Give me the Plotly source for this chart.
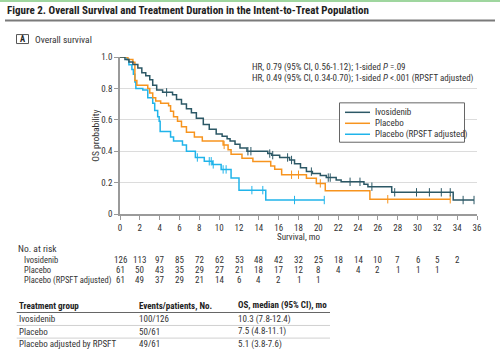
import bisect
import plotly.graph_objects as go

# ---------------- data ----------------
months_ticks = list(range(0, 37, 2))
y_ticks = [0, 0.2, 0.4, 0.6, 0.8, 1.0]
y_tick_labels = ["0", "0.2", "0.4", "0.6", "0.8", "1.0"]

ivo_t = [0, 0.5, 0.9, 1.3, 1.8, 2.2, 2.6, 3.0, 3.3, 3.7, 4.3, 5.3, 5.7, 6.2, 6.7, 7.2, 7.7, 8.4, 9.0, 9.7,
         10.3, 10.8, 11.1, 11.6, 12.1, 12.8, 14.9, 15.3, 16.1, 17.1, 17.6, 18.2, 18.8, 19.4, 20.2, 20.8,
         21.8, 22.3, 24.6, 25.0, 27.4, 33.6]
ivo_s = [1.0, 0.984, 0.968, 0.952, 0.93, 0.90, 0.88, 0.855, 0.82, 0.79, 0.775, 0.76, 0.73, 0.70, 0.67, 0.645,
         0.61, 0.57, 0.54, 0.51, 0.495, 0.48, 0.465, 0.445, 0.42, 0.40, 0.385, 0.375, 0.36, 0.344, 0.32,
         0.295, 0.27, 0.258, 0.245, 0.232, 0.217, 0.205, 0.19, 0.174, 0.138, 0.089]
ivo_end = 35.7
ivo_cens = [4.7, 12.9, 13.2, 15.1, 15.4, 16.9, 17.3, 19.3, 21.0, 21.2, 23.2, 24.2, 25.4, 27.7, 29.9, 31.2,
            32.4, 33.3, 34.6, 35.7]

plc_t = [0, 0.8, 1.3, 1.5, 1.7, 2.8, 3.0, 3.3, 3.6, 4.1, 4.9, 5.1, 5.4, 5.8, 6.2, 6.7, 7.5, 8.3, 10.4, 10.9,
         11.2, 12.3, 13.4, 15.2, 15.6, 16.3, 18.8, 19.8, 20.7, 25.2]
plc_s = [1.0, 0.984, 0.967, 0.85, 0.82, 0.80, 0.77, 0.74, 0.72, 0.705, 0.69, 0.655, 0.62, 0.59, 0.555, 0.52,
         0.49, 0.465, 0.44, 0.41, 0.38, 0.355, 0.335, 0.306, 0.285, 0.25, 0.227, 0.195, 0.148, 0.094]
plc_end = 33.3
plc_cens = [10.5, 17.3, 18.0, 20.2, 27.0, 33.3]

rp_t = [0, 0.7, 0.9, 1.2, 1.35, 1.5, 1.6, 2.3, 2.8, 3.3, 3.5, 3.8, 3.95, 4.05, 5.1, 5.4, 6.3, 6.7, 7.6, 8.5,
        9.3, 10.2, 11.2, 12.0, 14.7]
rp_s = [1.0, 0.984, 0.95, 0.92, 0.89, 0.84, 0.80, 0.79, 0.74, 0.705, 0.66, 0.62, 0.59, 0.525, 0.49, 0.465,
        0.44, 0.40, 0.36, 0.336, 0.316, 0.284, 0.23, 0.152, 0.089]
rp_end = 20.6
rp_cens = [7.8, 9.0, 9.2, 9.4, 10.4, 10.7, 13.3, 14.4, 17.6, 20.6]

series_names = ["Ivosidenib", "Placebo", "Placebo (RPSFT adjusted)"]
series_colors = ["#2c5866", "#f7941e", "#20b4ea"]

risk_ivo = [126, 113, 97, 85, 72, 62, 53, 48, 42, 32, 25, 18, 14, 10, 7, 6, 5, 2]
risk_plc = [61, 50, 43, 35, 29, 27, 21, 18, 17, 12, 8, 4, 4, 2, 1, 1, 1]
risk_rp = [61, 49, 37, 29, 21, 14, 6, 4, 2, 1, 1]

table_header = ["Treatment group", "Events/patients, No.", "OS, median (95% CI), mo"]
table_groups = ["Ivosidenib", "Placebo", "Placebo adjusted by RPSFT"]
table_events = ["100/126", "50/61", "49/61"]
table_median = ["10.3 (7.8-12.4)", "7.5 (4.8-11.1)", "5.1 (3.8-7.6)"]

# ---------------- layout helpers ----------------
W, H = 500, 359
PL, PT, PR, PB = 120, 57, 477, 214.5  # plot area in page pixels
L, T = PL, PT
R, B = W - PR, H - PB
PW, PH = PR - PL, PB - PT


def px(x):
    return (x - PL) / PW


def py(y):
    return (PB - y) / PH


FONT = "Liberation Sans Narrow, Roboto Condensed, Lato, sans-serif"
TXT = "#333333"


def step_at(ts, ss, t):
    i = bisect.bisect_right(ts, t) - 1
    return ss[max(i, 0)]


fig = go.Figure()

curves = [(ivo_t, ivo_s, ivo_end, ivo_cens), (plc_t, plc_s, plc_end, plc_cens), (rp_t, rp_s, rp_end, rp_cens)]
for idx in [2, 1, 0]:
    ts, ss, end, cens = curves[idx]
    fig.add_trace(go.Scatter(
        x=ts + [end], y=ss + [ss[-1]], mode="lines", line=dict(color=series_colors[idx], width=1.5, shape="hv"),
        name=series_names[idx], showlegend=False, hoverinfo="skip"))
    fig.add_trace(go.Scatter(
        x=cens, y=[step_at(ts, ss, c) for c in cens], mode="markers",
        marker=dict(symbol="line-ns", size=6, line=dict(color=series_colors[idx], width=1)),
        name=series_names[idx] + " censored", showlegend=False, hoverinfo="skip"))

fig.update_layout(
    width=W, height=H, margin=dict(l=L, r=R, t=T, b=B, autoexpand=False),
    paper_bgcolor="white", plot_bgcolor="white",
    font=dict(family=FONT, size=9, color=TXT),
    showlegend=False,
)
fig.update_xaxes(range=[0, 36], tickvals=months_ticks, ticktext=[str(v) for v in months_ticks],
                 showgrid=False, zeroline=False, showline=True, linecolor="#9a9a9a", linewidth=1.5,
                 ticks="outside", ticklen=4, tickcolor="#9a9a9a", tickfont=dict(size=9, color=TXT))
fig.update_yaxes(range=[0, 1.0], tickvals=y_ticks, ticktext=y_tick_labels,
                 showgrid=True, gridcolor="#dcdcdc", gridwidth=1, zeroline=False,
                 showline=True, linecolor="#9a9a9a", linewidth=1.5,
                 ticks="outside", ticklen=4, tickcolor="#9a9a9a", tickfont=dict(size=9, color=TXT))

ann = []
shapes = []


def text(x, y, s, size=9, anchor="left", bold=False, color=TXT, xref="paper", **kw):
    if bold:
        s = "<b>" + s + "</b>"
    ann.append(dict(x=x if xref == "x" else px(x), y=py(y), xref=xref, yref="paper", text=s, showarrow=False,
                    xanchor=anchor, yanchor="middle", font=dict(size=size, color=color, family=FONT), **kw))


def hline(x0, x1, y, color, width):
    shapes.append(dict(type="line", xref="paper", yref="paper", x0=px(x0), x1=px(x1), y0=py(y), y1=py(y),
                       line=dict(color=color, width=width)))


# top decorations
hline(0, 500, 0.8, "#9fd69f", 2)
text(5, 10, "Figure 2. Overall Survival and Treatment Duration in the Intent-to-Treat Population", size=11,
     bold=True, color="#222222")
hline(5, 495, 20.5, "#7a7a7a", 2)

# panel label
shapes.append(dict(type="rect", xref="paper", yref="paper", x0=px(16.5), x1=px(28.5), y0=py(34.5), y1=py(43.5),
                   line=dict(color="#555555", width=1)))
text(22.5, 39.3, "A", size=8.5, anchor="center", bold=True, color="#222222")
text(33, 39, "Overall survival", size=9.5, color="#333333")

# HR text
text(250, 68, "HR, 0.79 (95% CI, 0.56-1.12); 1-sided <i>P</i> =.09", size=9)
text(250, 79, "HR, 0.49 (95% CI, 0.34-0.70); 1-sided <i>P</i> &lt;.001 (RPSFT adjusted)", size=9)

# legend box
shapes.append(dict(type="rect", xref="paper", yref="paper", x0=px(339.5), x1=px(464.5), y0=py(103), y1=py(142.5),
                   line=dict(color="#666666", width=1), fillcolor="white"))
for i, (nm, col) in enumerate(zip(series_names, series_colors)):
    yy = 112.5 + 11 * i
    hline(345, 370, yy, col, 1.5)
    text(373, yy, nm, size=9)

# axis titles
ann.append(dict(x=px(96), y=py(136), xref="paper", yref="paper", text="OS probability", showarrow=False,
                textangle=-90, xanchor="center", yanchor="middle", font=dict(size=9.5, color=TXT, family=FONT)))
text(298.5, 238, "Survival, mo", size=9, anchor="center")

# numbers at risk
text(16.5, 249, "No. at risk", size=9.5)
rows = [("Ivosidenib", risk_ivo, 261), ("Placebo", risk_plc, 271), ("Placebo (RPSFT adjusted)", risk_rp, 281)]
for name, vals, yy in rows:
    text(21.5, yy, name, size=8.5)
    for k, v in enumerate(vals):
        text(months_ticks[k], yy, str(v), size=9, anchor="center", xref="x")

# bottom table
col_x = [16.7, 136.7, 236]
for cx, h in zip(col_x, table_header):
    text(cx, 306.5, h, size=9, bold=True, color="#222222")
hline(16.7, 330, 313.3, "#666666", 1.2)
row_y = [320, 332.7, 345]
for r in range(3):
    text(col_x[0], row_y[r], table_groups[r], size=9)
    text(col_x[1], row_y[r], table_events[r], size=9)
    text(col_x[2], row_y[r], table_median[r], size=9)
hline(16.7, 330, 326.3, "#d0d0d0", 1)
hline(16.7, 330, 339, "#d0d0d0", 1)

fig.update_layout(annotations=ann, shapes=shapes)
fig.write_html("out.html", config={"displayModeBar": False},
               post_script="document.body.style.margin='0px';")
